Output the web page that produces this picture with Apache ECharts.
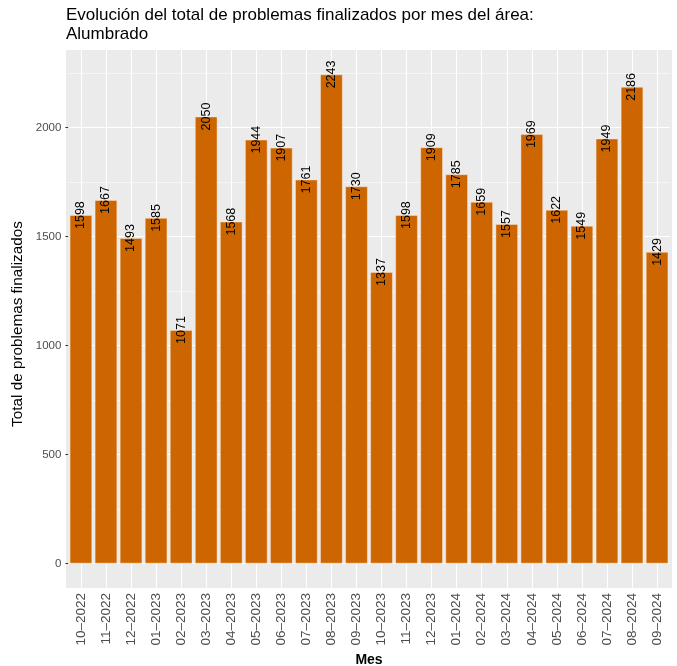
<!DOCTYPE html>
<html>
<head>
<meta charset="utf-8">
<script src="https://cdn.jsdelivr.net/npm/echarts@6/dist/echarts.min.js"></script>
<style>
  html, body { margin: 0; padding: 0; background: #ffffff; }
  #chart { width: 677px; height: 666px; }
</style>
</head>
<body>
<div id="chart"></div>
<script>
// Monthly totals of finished street-lighting issues
const months = ['10–2022', '11–2022', '12–2022', '01–2023', '02–2023', '03–2023',
  '04–2023', '05–2023', '06–2023', '07–2023', '08–2023', '09–2023',
  '10–2023', '11–2023', '12–2023', '01–2024', '02–2024', '03–2024',
  '04–2024', '05–2024', '06–2024', '07–2024', '08–2024', '09–2024'];
const totals = [1598, 1667, 1493, 1585, 1071, 2050, 1568, 1944, 1907, 1761, 2243, 1730,
  1337, 1598, 1909, 1785, 1659, 1557, 1969, 1622, 1549, 1949, 2186, 1429];
const yTicks = [0, 500, 1000, 1500, 2000];
const yMinorLines = [250, 750, 1250, 1750, 2250];

const FONT = 'Liberation Sans, Arial, Helvetica, sans-serif';

// Panel geometry (grey panel with padding around the data)
const W = 677, H = 666;
const panelLeft = 66, panelRight = 672, panelTop = 50, panelBottom = 588;
const nCat = months.length;
const catExpand = 0.6;                  // extra category units on each side
const band = (panelRight - panelLeft) / (nCat + 2 * catExpand);
const padX = (catExpand - 0.5) * band;  // category bands start inside the panel

const maxVal = Math.max(...totals);
const yPad = 0.05 * maxVal;

const chart = echarts.init(document.getElementById('chart'), null, { renderer: 'canvas' });

chart.setOption({
  animation: false,
  backgroundColor: '#ffffff',
  textStyle: { fontFamily: FONT },
  title: {
    text: 'Evolución del total de problemas finalizados por mes del área:\nAlumbrado',
    left: panelLeft,
    top: 6,
    padding: 0,
    textStyle: { fontFamily: FONT, fontSize: 17, fontWeight: 'normal', color: '#000000', lineHeight: 19 }
  },
  graphic: [{
    type: 'rect',
    z: -10,
    silent: true,
    shape: { x: panelLeft, y: panelTop, width: panelRight - panelLeft, height: panelBottom - panelTop },
    style: { fill: '#EBEBEB' }
  }],
  grid: {
    left: panelLeft + padX,
    right: W - panelRight + padX,
    top: panelTop,
    bottom: H - panelBottom,
    containLabel: false,
    outerBoundsMode: 'none'
  },
  xAxis: {
    type: 'category',
    data: months,
    boundaryGap: true,
    axisLine: { show: false },
    axisTick: { show: true, alignWithLabel: true, length: 3, lineStyle: { color: '#333333', width: 1 } },
    axisLabel: { rotate: 90, margin: 5, color: '#4D4D4D', fontSize: 13.5, fontFamily: FONT, interval: 0 },
    splitLine: { show: false },
    name: 'Mes',
    nameLocation: 'middle',
    nameGap: 64,
    nameTextStyle: { fontFamily: FONT, fontSize: 14, fontWeight: 'bold', color: '#000000' }
  },
  yAxis: {
    type: 'value',
    min: -yPad,
    max: maxVal + yPad,
    axisLine: { show: false },
    axisTick: { show: true, length: 3, customValues: yTicks, lineStyle: { color: '#333333', width: 1 } },
    axisLabel: {
      customValues: yTicks, margin: 7, color: '#4D4D4D', fontSize: 11.5, fontFamily: FONT,
      formatter: v => String(v)
    },
    splitLine: { show: false },
    name: 'Total de problemas finalizados',
    nameLocation: 'middle',
    nameRotate: 90,
    nameGap: 30,
    nameTextStyle: { fontFamily: FONT, fontSize: 15.3, color: '#000000', padding: [0, 10, 0, 0] }
  },
  series: [
    {
      // grid lines drawn beneath the bars
      type: 'line',
      data: [],
      z: 1,
      silent: true,
      markLine: {
        silent: true,
        z: 1,
        symbol: 'none',
        label: { show: false },
        animation: false,
        data: [
          ...yMinorLines.map(v => ({ yAxis: v, lineStyle: { color: '#ffffff', width: 0.55, type: 'solid' } })),
          ...yTicks.map(v => ({ yAxis: v, lineStyle: { color: '#ffffff', width: 1.1, type: 'solid' } })),
          ...months.map(m => ({ xAxis: m, lineStyle: { color: '#ffffff', width: 1.1, type: 'solid' } }))
        ]
      }
    },
    {
      type: 'bar',
      data: totals,
      z: 2,
      barWidth: '90%',
      itemStyle: { color: '#CD6600', borderColor: 'rgba(255,235,215,0.55)', borderWidth: 0.8 },
      label: {
        show: true,
        position: 'top',
        distance: 0,
        rotate: 90,
        align: 'center',
        verticalAlign: 'middle',
        color: '#000000',
        fontSize: 12.5,
        fontFamily: FONT,
        formatter: p => String(p.value)
      }
    }
  ]
});
</script>
</body>
</html>
